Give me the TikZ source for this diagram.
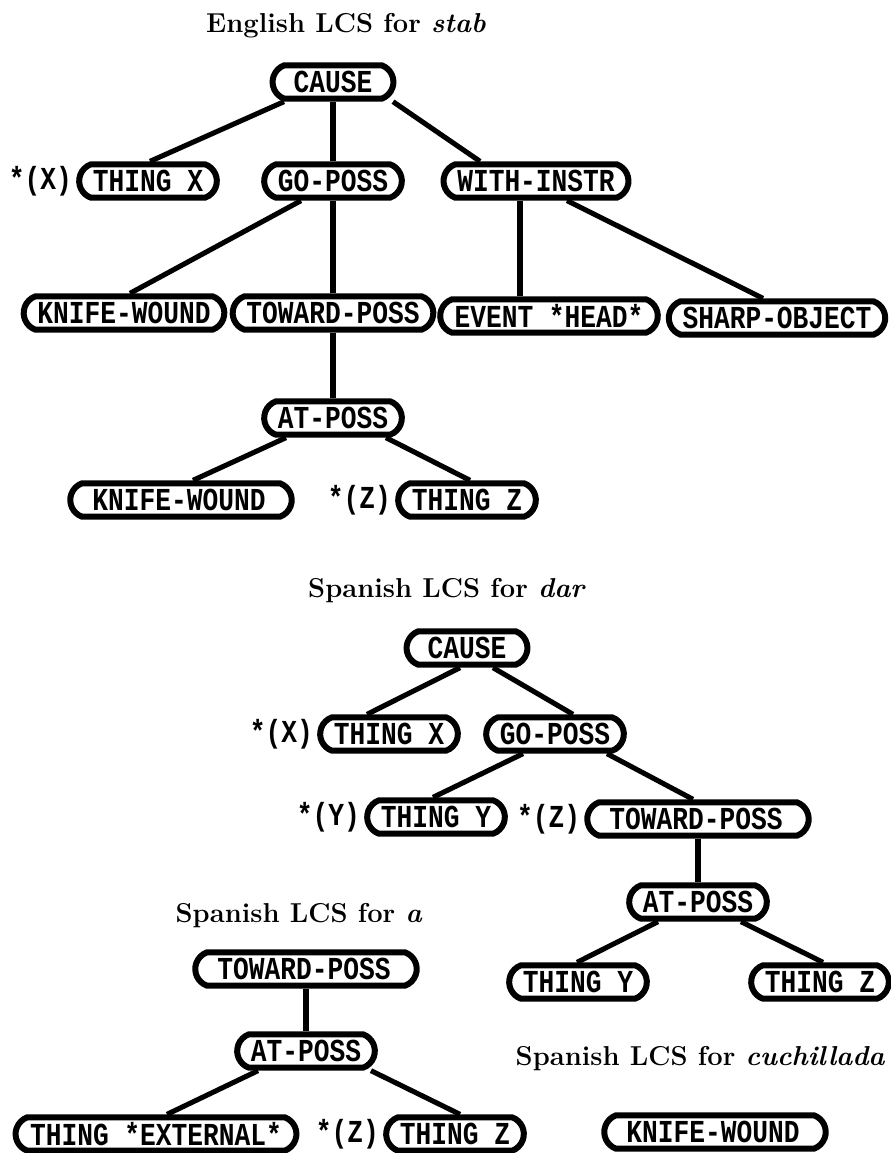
\documentclass[tikz,border=0pt]{standalone}
\usepackage{fontspec}
\usepackage{tikz}
\usetikzlibrary{positioning}
\usetikzlibrary{shapes}

\newfontfamily\lcsfont{Liberation Mono}[FakeStretch=0.82]

\tikzset{
	lcs/.style={rounded rectangle, rounded rectangle arc length=140, draw=black, line width=4.5pt, minimum height=25pt, inner xsep=7.5pt, inner ysep=0pt, font=\lcsfont\bfseries\fontsize{24}{28}\selectfont},
	lcsCause/.style={lcs, inner xsep=13pt},
	lcsLong/.style={lcs, inner xsep=13.75pt, text width=133pt, align=left},
	star/.style={inner sep=0pt, font=\lcsfont\bfseries\fontsize{24}{28}\selectfont},
	title/.style={anchor=base, font=\bfseries\fontsize{20.5}{24}\selectfont},
	branch/.style={line width=3.8pt}
}

\begin{document}
\begin{tikzpicture}[x=0.75pt, y=-0.75pt]

		\useasboundingbox (0,0) rectangle (891,1153);

		% English LCS for stab
		\node[title](enTitle) at (346,32){English LCS for \textit{stab}};

		\node[lcsCause](enCause) at (333,82){CAUSE};
		\node[lcs](enThingX) at (148,181){THING X};
		\node[lcs](enGoPoss) at (333,181){GO-POSS};
		\node[lcs](enWith) at (536,181){WITH-INSTR};
		\node[lcs](enWound) at (124,313){KNIFE-WOUND};
		\node[lcs](enToward) at (333,313){TOWARD-POSS};
		\node[lcs](enEvent) at (549,316){EVENT *HEAD*};
		\node[lcs](enSharp) at (777,318){SHARP-OBJECT};
		\node[lcs](enAt) at (333,418){AT-POSS};
		\node[lcsLong](enWoundB) at (181,500){KNIFE-WOUND};
		\node[lcs](enThingZ) at (467,500){THING Z};

		\node[star, left=3pt of enThingX](enStarX){*(X)};
		\node[star, left=3pt of enThingZ](enStarZ){*(Z)};

		\draw [branch] ([xshift=-36.75pt]enCause.south) -- ([xshift=1.5pt]enThingX.north);
		\draw [branch] (enCause.south) -- (enGoPoss.north);
		\draw [branch] ([xshift=45pt]enCause.south) -- ([xshift=-42pt]enWith.north);
		\draw [branch] ([xshift=-24pt]enGoPoss.south) -- ([xshift=4.5pt]enWound.north);
		\draw [branch] (enGoPoss.south) -- (enToward.north);
		\draw [branch] ([xshift=-12pt]enWith.south) -- ([xshift=-21.75pt]enEvent.north);
		\draw [branch] ([xshift=23.25pt]enWith.south) -- ([xshift=-10.5pt]enSharp.north);
		\draw [branch] (enToward.south) -- (enAt.north);
		\draw [branch] ([xshift=-35.25pt]enAt.south) -- ([xshift=9pt]enWoundB.north);
		\draw [branch] ([xshift=39.75pt]enAt.south) -- ([xshift=2.25pt]enThingZ.north);

		% Spanish LCS for dar
		\node[title](darTitle) at (447,597){Spanish LCS for \textit{dar}};

		\node[lcsCause](darCause) at (467,648){CAUSE};
		\node[lcs](darThingX) at (389,734){THING X};
		\node[lcs](darGoPoss) at (555,734){GO-POSS};
		\node[lcs](darThingY) at (436,817){THING Y};
		\node[lcsLong](darToward) at (698,819){TOWARD-POSS};
		\node[lcs](darAt) at (698,902){AT-POSS};
		\node[lcs](darThingYB) at (578,982){THING Y};
		\node[lcs](darThingZB) at (820,982){THING Z};

		\node[star, left=3pt of darThingX](darStarX){*(X)};
		\node[star, left=3pt of darThingY](darStarY){*(Y)};
		\node[star, left=3pt of darToward](darStarZ){*(Z)};

		\draw [branch] ([xshift=-5.25pt]darCause.south) -- ([xshift=-16.5pt]darThingX.north);
		\draw [branch] ([xshift=19.5pt]darCause.south) -- ([xshift=13.5pt]darGoPoss.north);
		\draw [branch] ([xshift=-24pt]darGoPoss.south) -- ([xshift=-2.25pt]darThingY.north);
		\draw [branch] ([xshift=39pt]darGoPoss.south) -- ([xshift=-3.75pt]darToward.north);
		\draw [branch] (darToward.south) -- (darAt.north);
		\draw [branch] ([xshift=-30pt]darAt.south) -- ([xshift=-0.75pt]darThingYB.north);
		\draw [branch] ([xshift=32.25pt]darAt.south) -- ([xshift=2.25pt]darThingZB.north);

		% Spanish LCS for a
		\node[title](aTitle) at (299,922){Spanish LCS for \textit{a}};

		\node[lcsLong](aToward) at (306,969){TOWARD-POSS};
		\node[lcs](aAt) at (306,1051){AT-POSS};
		\node[lcs](aThingExt) at (156,1134){THING *EXTERNAL*};
		\node[lcs](aThingZ) at (455,1134){THING Z};

		\node[star, left=3pt of aThingZ](aStarZ){*(Z)};

		\draw [branch] (aToward.south) -- (aAt.north);
		\draw [branch] ([xshift=-36pt]aAt.south) -- ([xshift=8.25pt]aThingExt.north);
		\draw [branch] ([xshift=48.75pt]aAt.south) -- ([xshift=3.75pt]aThingZ.north);

		% Spanish LCS for cuchillada
		\node[title, anchor=base east](cuchTitle) at (890,1065){Spanish LCS for \textit{cuchillada}};

		\node[lcsLong](cuchWound) at (715,1132){KNIFE-WOUND};

	\end{tikzpicture}
\end{document}
